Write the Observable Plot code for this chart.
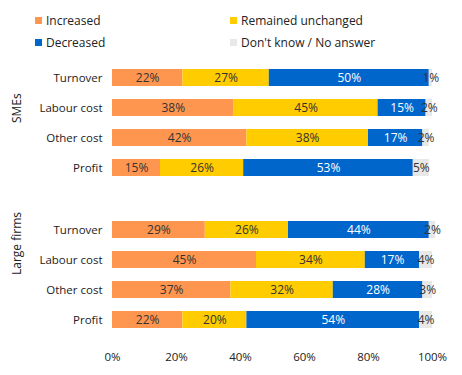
<!DOCTYPE html>
<html>
<head>
<meta charset="utf-8">
<script src="https://cdn.jsdelivr.net/npm/d3@7"></script>
<script src="https://cdn.jsdelivr.net/npm/@observablehq/plot@0.6"></script>
<style>
  body { margin: 0; background: #fff; font-family: "Open Sans", sans-serif; }
  #wrap { width: 462px; position: relative; }
  #legend { position: relative; height: 50px; font-size: 12px; color: #222; }
  .item { position: absolute; display: flex; align-items: center; white-space: nowrap; }
  .sw { width: 7px; height: 7px; margin-right: 4px; }
</style>
</head>
<body>
<div id="wrap">
  <div id="legend"></div>
  <div id="chart"></div>
</div>
<script>
const groups = ["SMEs", "Large firms"];
const items = ["Turnover", "Labour cost", "Other cost", "Profit"];
const categories = ["Increased", "Remained unchanged", "Decreased", "Don't know / No answer"];
const colors = ["#FF9650", "#FFCC00", "#0066CC", "#E8E8E8"];
const textColors = ["#333", "#333", "#fff", "#333"];
// values per group: rows = items, cols = categories (%)
const smes = [
  [22, 27, 50, 1],
  [38, 45, 15, 2],
  [42, 38, 17, 2],
  [15, 26, 53, 5]
];
const largeFirms = [
  [29, 26, 44, 2],
  [45, 34, 17, 4],
  [37, 32, 28, 3],
  [22, 20, 54, 4]
];
const xTicks = [0, 20, 40, 60, 80, 100];

const data = [];
[smes, largeFirms].forEach((tbl, gi) => {
  tbl.forEach((row, ii) => {
    row.forEach((v, ci) => {
      data.push({group: groups[gi], item: items[ii], category: categories[ci], ci, value: v});
    });
  });
});

// legend
const legend = document.getElementById("legend");
const legendPos = [[35, 21], [230, 21], [35, 43], [230, 43]];
categories.forEach((c, i) => {
  const el = document.createElement("div");
  el.className = "item";
  el.style.left = legendPos[i][0] + "px";
  el.style.top = (legendPos[i][1] - 9) + "px";
  el.innerHTML = `<span class="sw" style="background:${colors[i]}"></span><span>${c}</span>`;
  legend.appendChild(el);
});

const chart = Plot.plot({
  width: 462,
  height: 320,
  marginTop: 4,
  marginBottom: 27,
  marginLeft: 112,
  marginRight: 30,
  style: {fontFamily: "Open Sans, sans-serif", fontSize: "11.5px", color: "#222"},
  x: {domain: [0, 100], ticks: xTicks, tickFormat: d => d + "%", tickSize: 0, tickPadding: 10, label: null},
  y: {domain: items, paddingInner: 0.444, paddingOuter: 0.444, tickSize: 0, tickPadding: 10, label: null},
  fy: {domain: groups, paddingInner: 0.11, paddingOuter: 0, axis: null, label: null},
  color: {domain: categories, range: colors},
  marks: [
    Plot.barX(data, Plot.stackX({x: "value", y: "item", fy: "group", fill: "category", order: "ci"})),
    Plot.text(data, Plot.stackX({
      x: "value", y: "item", fy: "group", z: "category", order: "ci",
      text: d => d.value + "%",
      fill: d => textColors[d.ci],
      fontWeight: d => d.ci === 2 ? "bold" : "normal",
      fontSize: 12
    })),
    Plot.text(groups, {fy: d => d, text: d => d, frameAnchor: "left", rotate: -90, dx: -95, fontSize: 12, fill: "#222"})
  ]
});
document.getElementById("chart").appendChild(chart);
</script>
</body>
</html>
